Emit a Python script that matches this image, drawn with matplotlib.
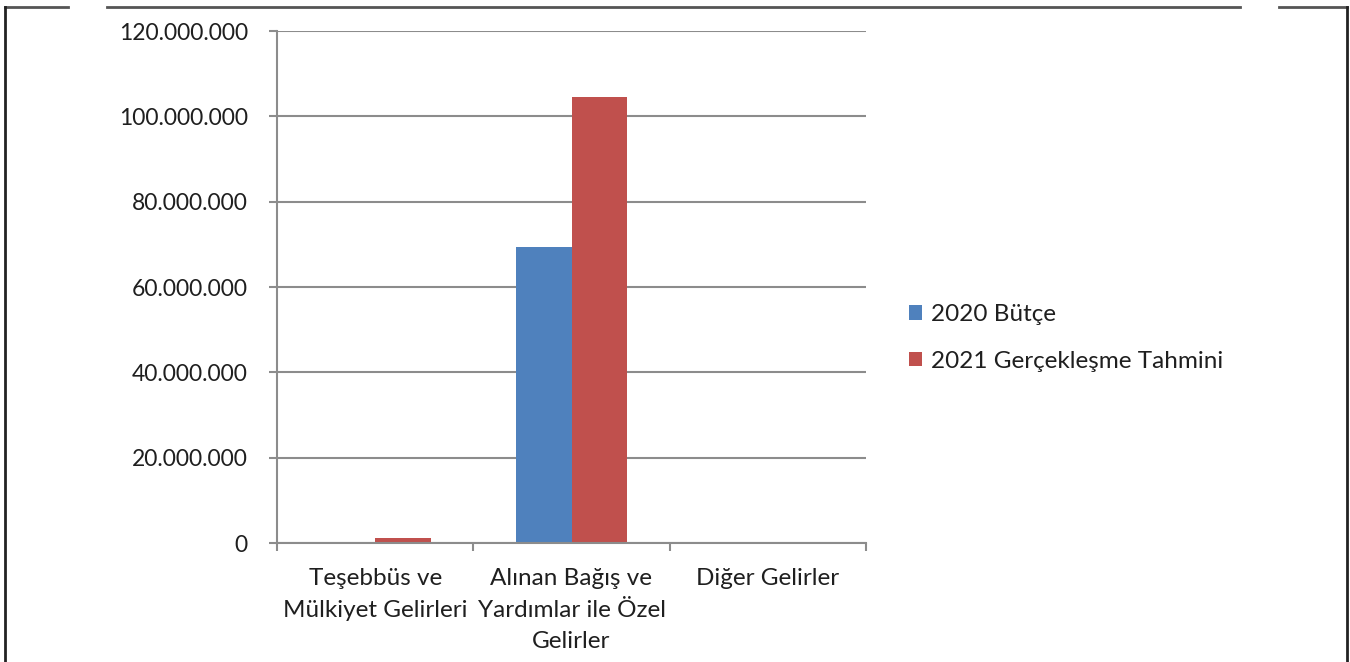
import matplotlib.pyplot as plt
from matplotlib.patches import Patch
from matplotlib.lines import Line2D
import numpy as np

# Data
categories = ['Teşebbüs ve\nMülkiyet Gelirleri', 'Alınan Bağış ve\nYardımlar ile Özel\nGelirler', 'Diğer Gelirler']
series_names = ['2020 Bütçe', '2021 Gerçekleşme Tahmini']
butce_2020 = [0, 69400000, 0]
tahmin_2021 = [1100000, 104500000, 0]
y_ticks = [0, 20000000, 40000000, 60000000, 80000000, 100000000, 120000000]

colors = ['#4F81BD', '#C0504D']
grid_col = '#8c8c8c'
text_col = '#1f1f1f'

plt.rcParams['font.family'] = ['Lato', 'DejaVu Sans']
fs = 17.5

fig = plt.figure(figsize=(13.5, 6.62), dpi=100)
ax = fig.add_axes([277/1350, 1-543/662, (866-277)/1350, (543-31)/662])

x = np.arange(len(categories))
w = 0.285
ax.bar(x - w/2, butce_2020, w, color=colors[0], zorder=3)
ax.bar(x + w/2, tahmin_2021, w, color=colors[1], zorder=3)

ax.set_xlim(-0.5, len(categories) - 0.5)
ax.set_ylim(0, 120000000)
ax.set_yticks(y_ticks)
ax.set_yticklabels([f"{v:,}".replace(',', '.') for v in y_ticks])
ax.yaxis.grid(True, color=grid_col, linewidth=1.5, zorder=0)

ax.set_xticks(x)
ax.set_xticklabels(categories, linespacing=1.62)
ax.set_xticks(np.arange(len(categories) + 1) - 0.5, minor=True)
ax.tick_params(axis='x', which='major', length=0, pad=18, labelsize=fs, colors=text_col)
ax.tick_params(axis='x', which='minor', length=5.5, width=1.5, color=grid_col, direction='out')
ax.tick_params(axis='y', length=6, width=1.5, color=grid_col, pad=15, labelsize=16.5, labelcolor=text_col)

for s in ['top', 'right']:
    ax.spines[s].set_visible(False)
for s in ['left', 'bottom']:
    ax.spines[s].set_color(grid_col)
    ax.spines[s].set_linewidth(1.5)
ax.spines['bottom'].set_zorder(4)

handles = [Patch(facecolor=c, edgecolor='none') for c in colors]
fig.legend(handles, series_names, loc='center left', bbox_to_anchor=(909/1350, 1-338/662),
           frameon=False, fontsize=fs, handlelength=0.55, handleheight=0.55,
           handletextpad=0.35, labelspacing=1.05, borderpad=0, borderaxespad=0,
           labelcolor=text_col)

# page frame around the chart
fy = 1 - 6.5/662
fig.add_artist(Line2D([5/1350, 68/1350], [fy, fy], color='#555555', lw=2))
fig.add_artist(Line2D([107/1350, 1240/1350], [fy, fy], color='#555555', lw=2))
fig.add_artist(Line2D([1279/1350, 1347/1350], [fy, fy], color='#555555', lw=2))
fig.add_artist(Line2D([5.5/1350, 5.5/1350], [0, fy], color='#222222', lw=2))
fig.add_artist(Line2D([1347/1350, 1347/1350], [0, fy], color='#222222', lw=2))

fig.savefig('out.png', dpi=100)
